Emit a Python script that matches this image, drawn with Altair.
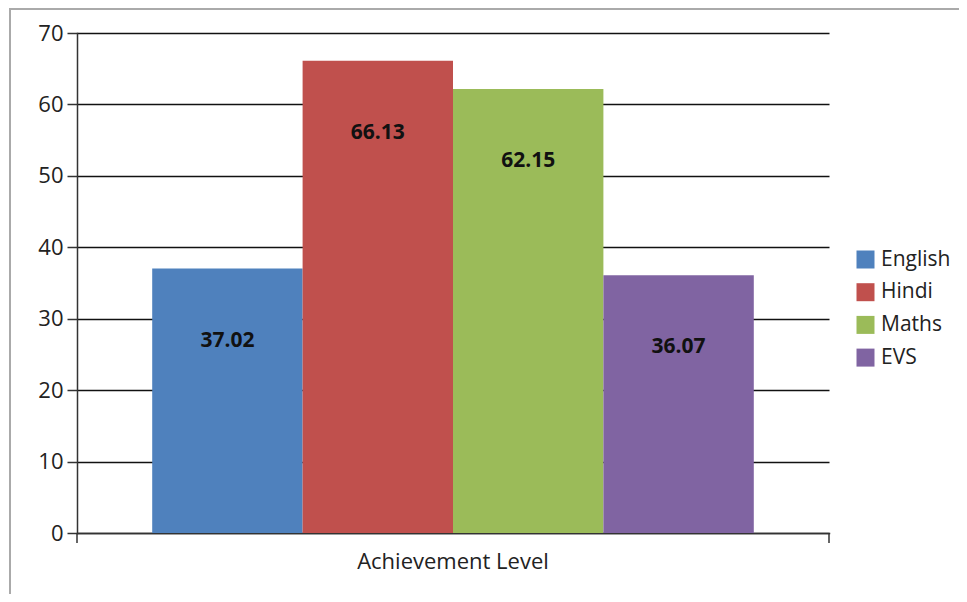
import altair as alt
import pandas as pd

subjects = ["English", "Hindi", "Maths", "EVS"]
values = [37.02, 66.13, 62.15, 36.07]
colors = ["#4F81BD", "#C0504D", "#9BBB59", "#8064A2"]
group = "Achievement Level"
y_ticks = [0, 10, 20, 30, 40, 50, 60, 70]

df = pd.DataFrame({"group": [group] * 4, "subject": subjects, "value": values})
FONT = "Open Sans"

base = alt.Chart(df)

bars = base.mark_bar(stroke=None).encode(
    x=alt.X("group:N", title=None,
            scale=alt.Scale(paddingInner=0.2, paddingOuter=0.1),
            axis=alt.Axis(labelAngle=0, ticks=False, labelFontSize=22, labelFont=FONT,
                          labelColor="#222", labelPadding=18, labelLimit=600,
                          domainColor="#333", domainWidth=1.5, grid=False)),
    xOffset=alt.XOffset("subject:N", sort=subjects,
                        scale=alt.Scale(paddingInner=0, paddingOuter=0)),
    y=alt.Y("value:Q", title=None,
            scale=alt.Scale(domain=[0, 70], nice=False),
            axis=alt.Axis(values=y_ticks, tickSize=10, tickColor="#333", tickWidth=1.5,
                          domainColor="#333", domainWidth=1.5, labelFontSize=22,
                          labelFont=FONT, labelColor="#222", labelPadding=4,
                          grid=True, gridColor="#111", gridWidth=1.6)),
    color=alt.Color("subject:N", sort=subjects,
                    scale=alt.Scale(domain=subjects, range=colors),
                    legend=alt.Legend(title=None, orient="none", legendX=778, legendY=216,
                                      symbolType="square", symbolSize=324,
                                      symbolStrokeWidth=0, labelFontSize=21,
                                      labelFont=FONT, labelColor="#222",
                                      rowPadding=10.7, labelOffset=5)),
)

labels = base.mark_text(fontSize=21, fontWeight="bold", font=FONT, color="#111",
                        dy=72, baseline="middle").encode(
    x=alt.X("group:N"),
    xOffset=alt.XOffset("subject:N", sort=subjects),
    y=alt.Y("value:Q"),
    text=alt.Text("value:Q", format=".2f"),
)

tick_df = pd.DataFrame({"pos": ["edge"]})
edge_tick_l = alt.Chart(tick_df).mark_rule(color="#333", strokeWidth=1.5).encode(
    x=alt.value(0), y=alt.value(500), y2=alt.value(510),
)
edge_tick_r = alt.Chart(tick_df).mark_rule(color="#333", strokeWidth=1.5).encode(
    x=alt.value(752), y=alt.value(500), y2=alt.value(510),
)
frame = alt.Chart(tick_df).mark_rect(fill=None, stroke="#aaaaaa", strokeWidth=2).encode(
    x=alt.value(-67), x2=alt.value(1000), y=alt.value(-24), y2=alt.value(700),
)

chart = alt.layer(frame, bars, labels, edge_tick_l, edge_tick_r).properties(
    width=752, height=500,
    autosize=alt.AutoSizeParams(type="none"),
    padding={"left": 69, "top": 25, "right": 130, "bottom": 61},
    background="white",
).configure_view(stroke=None).configure_axis(domainCap="square")

chart.save("out.html", embed_options={"renderer": "svg", "actions": False})
